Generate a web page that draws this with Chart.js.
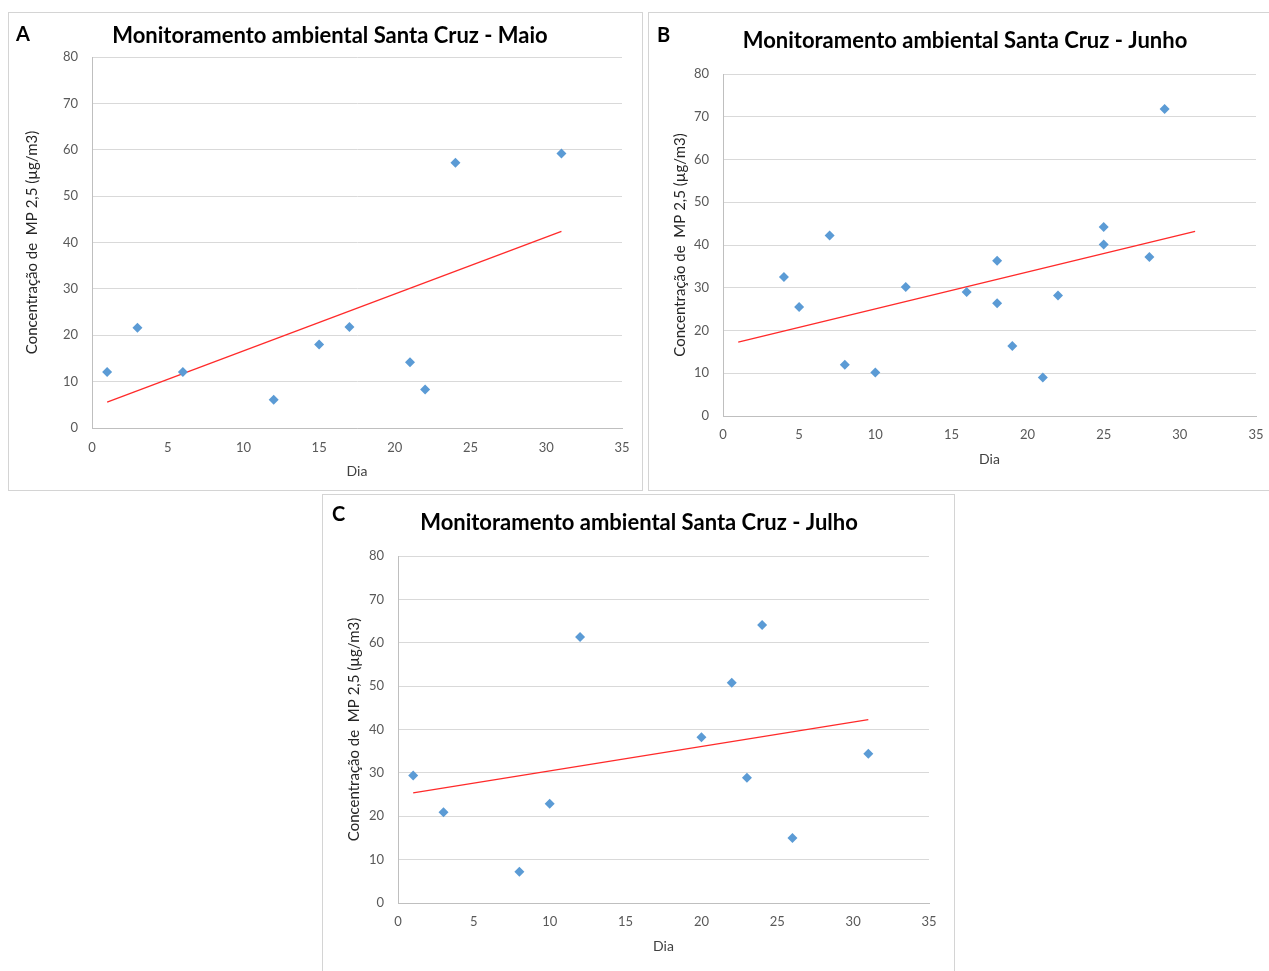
<!DOCTYPE html>
<html lang="pt">
<head>
<meta charset="utf-8">
<script src="https://cdn.jsdelivr.net/npm/chart.js@4.4.1/dist/chart.umd.min.js"></script>
<style>
  html, body { margin: 0; padding: 0; background: #fff; overflow: hidden; }
  body { width: 1269px; height: 971px; position: relative; }
  .panel { position: absolute; border: 1px solid #d4d4d4; box-sizing: border-box; background: #fff; }
  .panel canvas { position: absolute; left: 0; top: 0; }
</style>
</head>
<body>
<div class="panel" style="left:8px;top:12px;width:635px;height:479px"><canvas id="chartA" width="633" height="477"></canvas></div>
<div class="panel" style="left:648px;top:12px;width:623px;height:479px"><canvas id="chartB" width="621" height="477"></canvas></div>
<div class="panel" style="left:322px;top:494px;width:633px;height:479px"><canvas id="chartC" width="631" height="477"></canvas></div>

<script>
// Maio
const diasMaio = [1, 3, 6, 12, 15, 17, 21, 22, 24, 31];
const mp25Maio = [12.1, 21.6, 12.1, 6.1, 18.0, 21.8, 14.2, 8.3, 57.2, 59.2];
const tendMaioX = [1, 31];
const tendMaioY = [5.6, 42.4];

// Junho
const diasJunho = [4, 5, 7, 8, 10, 12, 16, 18, 18, 19, 21, 22, 25, 25, 28, 29];
const mp25Junho = [32.5, 25.5, 42.2, 12.0, 10.2, 30.2, 29.0, 36.3, 26.4, 16.4, 9.0, 28.2, 44.2, 40.1, 37.2, 71.8];
const tendJunhoX = [1, 31];
const tendJunhoY = [17.3, 43.2];

// Julho
const diasJulho = [1, 3, 8, 10, 12, 20, 22, 23, 24, 26, 31];
const mp25Julho = [29.4, 20.9, 7.2, 22.9, 61.3, 38.2, 50.8, 28.9, 64.1, 15.0, 34.4];
const tendJulhoX = [1, 31];
const tendJulhoY = [25.4, 42.3];

// axis ranges
const xMin = 0, xMax = 35, xStep = 5;
const yMin = 0, yMax = 80, yStep = 10;

const FONT = "Lato, 'Open Sans', sans-serif";

// panel letter + chart title (title is off-centre in the original, so drawn here)
const headerPlugin = {
  id: "panelHeader",
  afterDraw(chart, args, opts) {
    const ctx = chart.ctx;
    ctx.save();
    ctx.fillStyle = "#000";
    ctx.textBaseline = "middle";
    ctx.textAlign = "left";
    ctx.font = "bold 20px " + FONT;
    ctx.fillText(opts.letter, opts.letterX, opts.letterY);
    ctx.textBaseline = "alphabetic";
    ctx.textAlign = "center";
    ctx.font = "bold 22px " + FONT;
    ctx.fillText(opts.title, opts.titleX, opts.titleY);
    ctx.restore();
  },
};

function makeChart(id, letter, titleText, dias, valores, tendX, tendY, g) {
  const ctx = document.getElementById(id).getContext("2d");
  return new Chart(ctx, {
    type: "scatter",
    data: {
      datasets: [
        {
          data: dias.map((d, i) => ({ x: d, y: valores[i] })),
          pointStyle: "rectRot",
          pointRadius: 5,
          backgroundColor: "#5b9bd5",
          borderColor: "#5b9bd5",
          borderWidth: 0,
          showLine: false,
        },
        {
          data: tendX.map((d, i) => ({ x: d, y: tendY[i] })),
          showLine: true,
          pointRadius: 0,
          borderColor: "#ff2a2a",
          borderWidth: 1.3,
          fill: false,
        },
      ],
    },
    options: {
      responsive: false,
      animation: false,
      layout: { padding: { top: g.top, left: 0, right: g.right, bottom: 0 } },
      plugins: {
        legend: { display: false },
        tooltip: { enabled: false },
        title: { display: false },
        panelHeader: {
          letter: letter, letterX: g.letterX, letterY: g.letterY,
          title: titleText, titleX: g.titleX, titleY: g.titleY,
        },
      },
      scales: {
        x: {
          type: "linear",
          min: xMin,
          max: xMax,
          afterFit: (s) => { s.height = g.xHeight; s.paddingLeft = 0; s.paddingRight = 0; },
          ticks: { stepSize: xStep, color: "#595959", padding: g.xTickPad, font: { family: FONT, size: 13 } },
          grid: { display: false, drawTicks: false },
          border: { display: true, color: "#bfbfbf", width: 1 },
          title: {
            display: true,
            text: "Dia",
            color: "#404040",
            font: { family: FONT, size: 14 },
            padding: { top: g.diaPad, bottom: g.diaPad },
          },
        },
        y: {
          type: "linear",
          min: yMin,
          max: yMax,
          afterFit: (s) => { s.width = g.yWidth; },
          ticks: { stepSize: yStep, color: "#595959", padding: 14, font: { family: FONT, size: 13 } },
          grid: { color: "#d9d9d9", drawTicks: false, lineWidth: 1 },
          border: { display: true, color: "#bfbfbf", width: 1 },
          title: {
            display: true,
            text: "Concentração de  MP 2,5 (µg/m3)",
            color: "#262626",
            font: { family: FONT, size: 15 },
            padding: { top: g.yTitlePad, bottom: g.yTitlePad },
          },
        },
      },
    },
    plugins: [headerPlugin],
  });
}

makeChart("chartA", "A", "Monitoramento ambiental Santa Cruz - Maio", diasMaio, mp25Maio, tendMaioX, tendMaioY, {
  top: 44, right: 20, xHeight: 62, yWidth: 83,
  xTickPad: 12, diaPad: 10, yTitlePad: 14,
  letterX: 7, letterY: 22, titleX: 321, titleY: 30,
});

makeChart("chartB", "B", "Monitoramento ambiental Santa Cruz - Junho", diasJunho, mp25Junho, tendJunhoX, tendJunhoY, {
  top: 61, right: 14, xHeight: 74, yWidth: 74,
  xTickPad: 11, diaPad: 22, yTitlePad: 22,
  letterX: 8, letterY: 23, titleX: 316, titleY: 35,
});

makeChart("chartC", "C", "Monitoramento ambiental Santa Cruz - Julho", diasJulho, mp25Julho, tendJulhoX, tendJulhoY, {
  top: 61, right: 25, xHeight: 69, yWidth: 75,
  xTickPad: 11, diaPad: 17, yTitlePad: 22,
  letterX: 9, letterY: 20, titleX: 316, titleY: 35,
});
</script>
</body>
</html>
